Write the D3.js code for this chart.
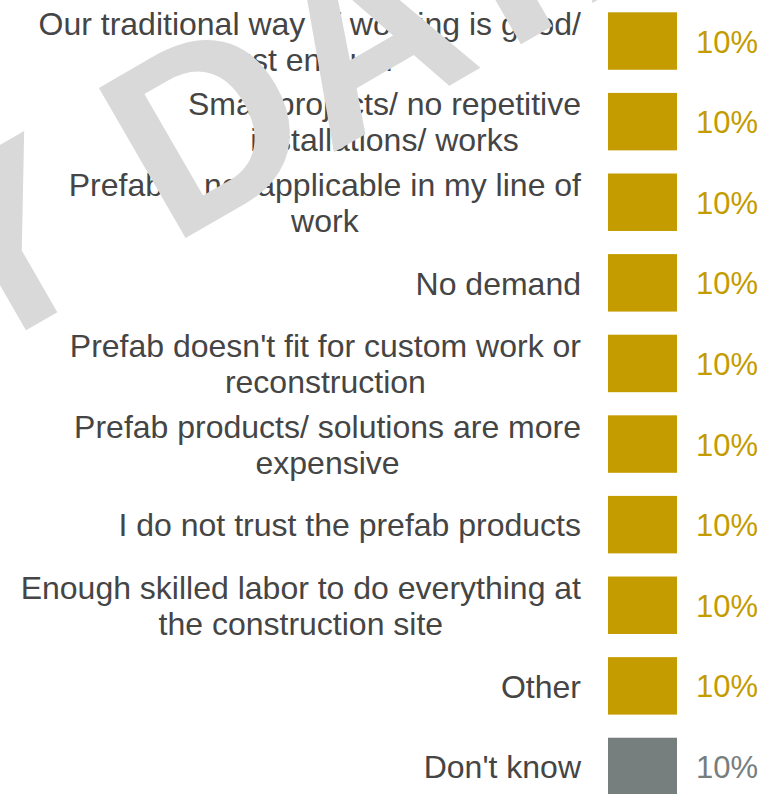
<!DOCTYPE html>
<html>
<head>
<meta charset="utf-8">
<script src="https://cdn.jsdelivr.net/npm/d3@7"></script>
<style>
  html, body { margin: 0; padding: 0; background: #ffffff; overflow: hidden; }
  svg { display: block; }
</style>
</head>
<body>
<script>
// ---- data ----
const categories = [
  "Our traditional way of working is good/ just enough",
  "Small projects/ no repetitive installations/ works",
  "Prefab is not applicable in my line of work",
  "No demand",
  "Prefab doesn't fit for custom work or reconstruction",
  "Prefab products/ solutions are more expensive",
  "I do not trust the prefab products",
  "Enough skilled labor to do everything at the construction site",
  "Other",
  "Don't know"
];
const values = [0.10, 0.10, 0.10, 0.10, 0.10, 0.10, 0.10, 0.10, 0.10, 0.10];
const neutralCategories = ["Don't know"];
const watermarkText = "DUMMY DATA";

// ---- layout ----
const W = 766, H = 794;
const FONT = "'Liberation Sans', Arial, Helvetica, sans-serif";
const labelRight = 581;
const barX0 = 608;
const maxLabelWidth = 572;
const lineGap = 36;

const svg = d3.select("body").append("svg")
  .attr("width", W).attr("height", H);

const data = categories.map((c, i) => ({ cat: c, value: values[i] }));

const y = d3.scaleBand()
  .domain(categories)
  .range([12.3, 795.2])
  .paddingInner(0.287)
  .paddingOuter(0);

const x = d3.scaleLinear().domain([0, 1]).range([barX0, barX0 + 690]);

const color = d3.scaleOrdinal()
  .domain(["main", "neutral"])
  .range(["#C49C00", "#767E7E"]);
const kind = c => neutralCategories.includes(c) ? "neutral" : "main";
const fmt = d3.format(".0%");

// bars
svg.append("g").selectAll("rect").data(data).join("rect")
  .attr("x", x(0))
  .attr("y", d => y(d.cat))
  .attr("width", d => x(d.value) - x(0))
  .attr("height", y.bandwidth())
  .attr("fill", d => color(kind(d.cat)));

// value labels
svg.append("g").selectAll("text").data(data).join("text")
  .attr("x", d => x(d.value) + 19)
  .attr("y", d => y(d.cat) + y.bandwidth() / 2)
  .attr("dy", "0.37em")
  .attr("font-family", FONT)
  .attr("font-size", 31)
  .attr("fill", d => color(kind(d.cat)))
  .text(d => fmt(d.value));

// category labels (wrapped, lines centered in a right-aligned block)
const labelG = svg.append("g")
  .attr("font-family", FONT)
  .attr("font-size", 32)
  .attr("fill", "#454545");

const measurer = labelG.append("text").attr("visibility", "hidden");
const measure = s => { measurer.text(s); return measurer.node().getComputedTextLength(); };

function wrap(str) {
  const words = str.split(" ");
  const lines = [];
  let cur = "";
  words.forEach(w => {
    const t = cur ? cur + " " + w : w;
    if (cur && measure(t) > maxLabelWidth) { lines.push(cur); cur = w; }
    else cur = t;
  });
  if (cur) lines.push(cur);
  return lines;
}

data.forEach(d => {
  const lines = wrap(d.cat);
  const widths = lines.map(measure);
  const blockW = d3.max(widths);
  const cx = labelRight - blockW / 2;
  const cy = y(d.cat) + y.bandwidth() / 2;
  const t = labelG.append("text")
    .attr("text-anchor", "middle");
  lines.forEach((ln, i) => {
    t.append("tspan")
      .attr("x", cx)
      .attr("y", cy + (i - (lines.length - 1) / 2) * lineGap)
      .attr("dy", "0.37em")
      .text(ln);
  });
});
measurer.remove();

// watermark
const wm = svg.append("text")
  .attr("font-family", FONT)
  .attr("font-weight", "bold")
  .attr("font-size", 252)
  .attr("fill", "#D9D9D9")
  .attr("xml:space", "preserve")
  .style("white-space", "pre")
  .text(watermarkText);
const splitAt = watermarkText.indexOf(" ") + 1;
const offset = wm.node().getSubStringLength(0, splitAt);
wm.attr("x", -offset).attr("y", 0)
  .attr("transform", "translate(171,246.5) rotate(-30)");
</script>
</body>
</html>
